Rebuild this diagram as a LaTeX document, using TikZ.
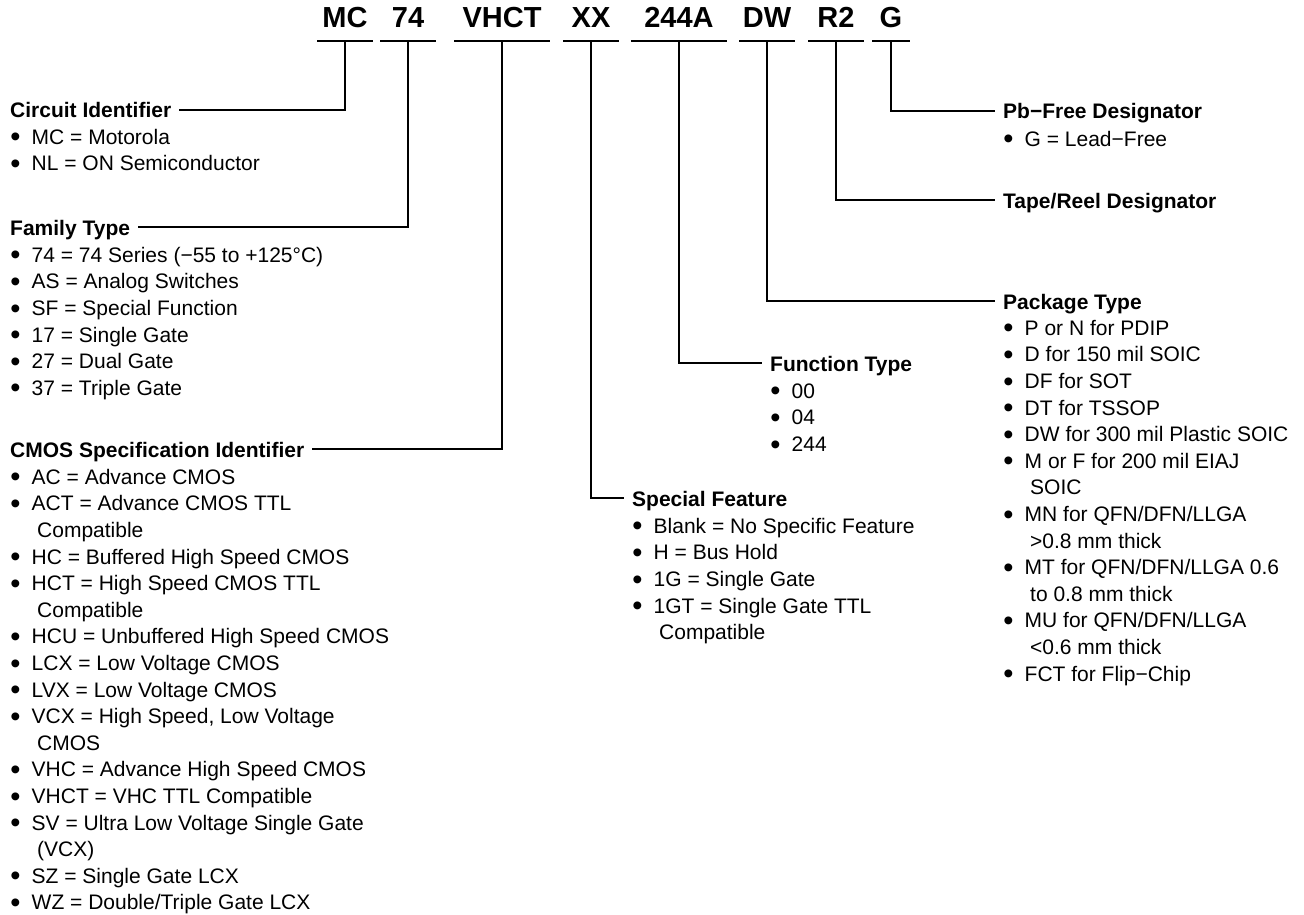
\documentclass[tikz,border=0pt]{standalone}
\usepackage{fontspec}
\setmainfont{Liberation Sans}
\usetikzlibrary{positioning}

\newcommand{\itm}[1]{\makebox[20.5pt][l]{\hspace*{-0.8pt}\raisebox{-2.6pt}{\fontsize{29}{29}\selectfont •}}#1}
\newcommand{\cont}[1]{\hspace*{26pt}#1}
\newcommand{\topstrut}{\rule{0pt}{20pt}}

\begin{document}
\begin{tikzpicture}[
  x=1pt, y=-1pt,
  code/.style={font=\fontsize{29}{32}\selectfont\bfseries, inner sep=0pt,
               text height=21pt, text depth=13pt, anchor=south},
  head/.style={font=\fontsize{21}{26.6}\selectfont\bfseries, inner sep=0pt,
               text height=16pt, text depth=0pt, anchor=base west},
  items/.style={font=\fontsize{21}{26.6}\selectfont, inner sep=0pt,
                align=left, anchor=north west},
  link/.style={line width=1.6pt},
  tolabel/.style={link, shorten >=8pt}
]
  \useasboundingbox (0,0) rectangle (1304,915);

  % part number
  \node[code, minimum width=55pt] (mc)   at (345,41) {MC};
  \node[code, minimum width=55pt] (sev)  at (408,41) {74};
  \node[code, minimum width=95pt] (vhct) at (502,41) {VHCT};
  \node[code, minimum width=55pt] (xx)   at (591,41) {XX};
  \node[code, minimum width=96pt] (num)  at (679,41) {244A};
  \node[code, minimum width=55pt] (dw)   at (767,41) {DW};
  \node[code, minimum width=55pt] (rtwo) at (836,41) {R2};
  \node[code, minimum width=37pt] (g)    at (891,41) {G};
  \foreach \t in {mc,sev,vhct,xx,num,dw,rtwo,g}
    \draw[link] (\t.south west) -- (\t.south east);

  % left column
  \node[head] (circ) at (10,118) {Circuit Identifier};
  \node[items, below right=6pt and 1pt of circ.base west] (circl)
    {\topstrut\itm{MC = Motorola}\\
     \itm{NL = ON Semiconductor}};

  \node[head] (fam) at (10,235) {Family Type};
  \node[items, below right=7pt and 1pt of fam.base west] (faml)
    {\topstrut\itm{74 = 74 Series (−55 to +125°C)}\\
     \itm{AS = Analog Switches}\\
     \itm{SF = Special Function}\\
     \itm{17 = Single Gate}\\
     \itm{27 = Dual Gate}\\
     \itm{37 = Triple Gate}};

  \node[head] (cmos) at (10,457) {CMOS Specification Identifier};
  \node[items, below right=7pt and 1pt of cmos.base west] (cmosl)
    {\topstrut\itm{AC = Advance CMOS}\\
     \itm{ACT = Advance CMOS TTL}\\
     \cont{Compatible}\\
     \itm{HC = Buffered High Speed CMOS}\\
     \itm{HCT = High Speed CMOS TTL}\\
     \cont{Compatible}\\
     \itm{HCU = Unbuffered High Speed CMOS}\\
     \itm{LCX = Low Voltage CMOS}\\
     \itm{LVX = Low Voltage CMOS}\\
     \itm{VCX = High Speed, Low Voltage}\\
     \cont{CMOS}\\
     \itm{VHC = Advance High Speed CMOS}\\
     \itm{VHCT = VHC TTL Compatible}\\
     \itm{SV = Ultra Low Voltage Single Gate}\\
     \cont{(VCX)}\\
     \itm{SZ = Single Gate LCX}\\
     \itm{WZ = Double/Triple Gate LCX}};

  % middle
  \node[head] (spec) at (632,506) {Special Feature};
  \node[items, below right=7pt and 1pt of spec.base west] (specl)
    {\topstrut\itm{Blank = No Specific Feature}\\
     \itm{H = Bus Hold}\\
     \itm{1G = Single Gate}\\
     \itm{1GT = Single Gate TTL}\\
     \cont{Compatible}};

  \node[head] (fn) at (770,371) {Function Type};
  \node[items, below right=7pt and 1pt of fn.base west] (fnl)
    {\topstrut\itm{00}\\
     \itm{04}\\
     \itm{244}};

  % right column
  \node[head] (pb) at (1003,119) {Pb−Free Designator};
  \node[items, below right=7pt and 1pt of pb.base west] (pbl)
    {\topstrut\itm{G = Lead−Free}};

  \node[head] (tape) at (1003,208) {Tape/Reel Designator};

  \node[head] (pkg) at (1003,309) {Package Type};
  \node[items, below right=6pt and 1pt of pkg.base west] (pkgl)
    {\topstrut\itm{P or N for PDIP}\\
     \itm{D for 150 mil SOIC}\\
     \itm{DF for SOT}\\
     \itm{DT for TSSOP}\\
     \itm{DW for 300 mil Plastic SOIC}\\
     \itm{M or F for 200 mil EIAJ}\\
     \cont{SOIC}\\
     \itm{MN for QFN/DFN/LLGA}\\
     \cont{>0.8 mm thick}\\
     \itm{MT for QFN/DFN/LLGA 0.6}\\
     \cont{to 0.8 mm thick}\\
     \itm{MU for QFN/DFN/LLGA}\\
     \cont{<0.6 mm thick}\\
     \itm{FCT for Flip−Chip}};

  % leaders
  \draw[tolabel] (mc.south)   |- (circ.east);
  \draw[tolabel] (sev.south)  |- (fam.east);
  \draw[tolabel] (vhct.south) |- (cmos.east);
  \draw[tolabel] (xx.south)   |- (spec.west);
  \draw[tolabel] (num.south)  |- (fn.west);
  \draw[tolabel] (dw.south)   |- (pkg.west);
  \draw[tolabel] (rtwo.south) |- (tape.west);
  \draw[tolabel] (g.south)    |- (pb.west);
\end{tikzpicture}
\end{document}
